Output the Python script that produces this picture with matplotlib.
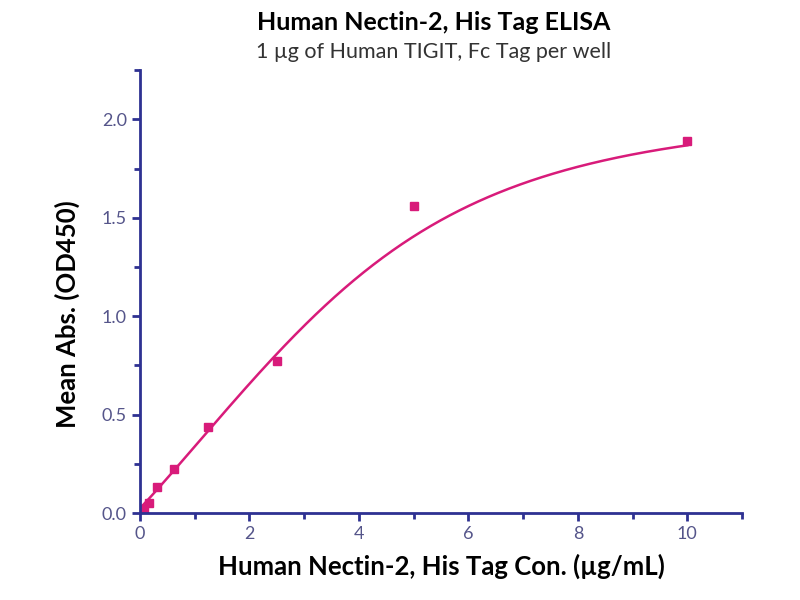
import numpy as np
import matplotlib
matplotlib.use('Agg')
import matplotlib.pyplot as plt
from matplotlib.ticker import MultipleLocator, FormatStrFormatter

# ELISA readings
conc = [0.078, 0.156, 0.3125, 0.625, 1.25, 2.5, 5.0, 10.0]
od450 = [0.02, 0.049, 0.131, 0.224, 0.436, 0.77, 1.56, 1.89]

# 5PL fit parameters (bottom, top, ec50, hill, asymmetry)
fit_params = [0.025, 2.05, 6.0, 2.6, 0.4]

title = 'Human Nectin-2, His Tag ELISA'
subtitle = '1 \u00b5g of Human TIGIT, Fc Tag per well'
xlabel = 'Human Nectin-2, His Tag Con. (\u00b5g/mL)'
ylabel = 'Mean Abs. (OD450)'

navy = '#2e3192'
pink = '#d81b7a'


def five_pl(x, bottom, top, ec50, hill, s):
    x = np.maximum(x, 1e-9)
    return bottom + (top - bottom) / (1 + (ec50 / x) ** hill) ** s


plt.rcParams['font.family'] = ['Lato', 'DejaVu Sans']

fig = plt.figure(figsize=(8, 6), dpi=100)
ax = fig.add_axes([0.175, 0.145, 0.7525, 0.738])

xs = np.linspace(0, max(conc), 400)
ax.plot(xs, five_pl(xs, *fit_params), color=pink, linewidth=1.8)
ax.plot(conc, od450, 's', color=pink, markersize=6, linestyle='none')

ax.set_xlim(0, 11)
ax.set_ylim(0, 2.25)
ax.xaxis.set_major_locator(MultipleLocator(2))
ax.xaxis.set_minor_locator(MultipleLocator(1))
ax.yaxis.set_major_locator(MultipleLocator(0.5))
ax.yaxis.set_minor_locator(MultipleLocator(0.25))
ax.yaxis.set_major_formatter(FormatStrFormatter('%.1f'))

for side in ['top', 'right']:
    ax.spines[side].set_visible(False)
for side in ['left', 'bottom']:
    ax.spines[side].set_color(navy)
    ax.spines[side].set_linewidth(2)

ax.tick_params(which='major', direction='out', length=6, width=2, color=navy,
               labelcolor='#55558a', labelsize=13)
ax.tick_params(which='minor', direction='out', length=4, width=2, color=navy)

ax.set_xlabel(xlabel, fontsize=18.5, fontweight='bold', labelpad=8)
ax.set_ylabel(ylabel, fontsize=18.5, fontweight='bold', labelpad=10)
ax.yaxis.set_label_coords(-0.1, 0.45)

fig.text(0.5425, 0.962, title, ha='center', va='center', fontsize=18, fontweight='bold')
fig.text(0.5425, 0.913, subtitle, ha='center', va='center', fontsize=15.5, color='#333333')

fig.savefig('out.png', dpi=100)
